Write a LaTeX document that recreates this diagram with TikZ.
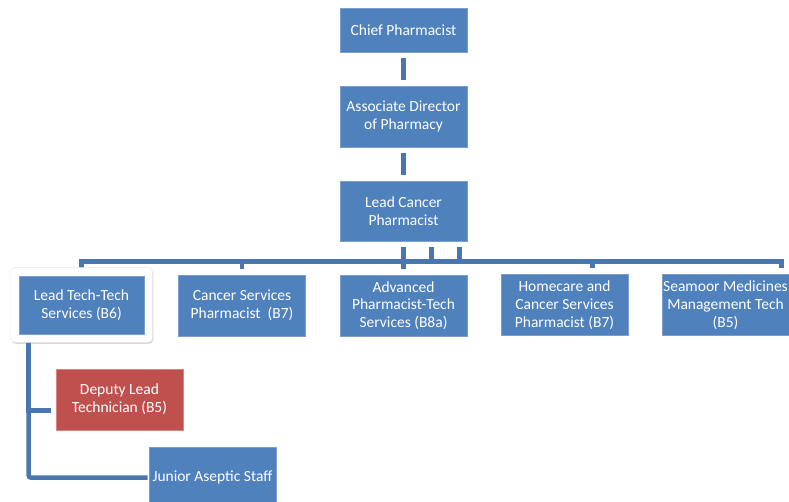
\documentclass[tikz,border=0pt]{standalone}
\usepackage{fontspec}
\setmainfont{Carlito}
\usepackage{tikz}
\usetikzlibrary{fit, backgrounds, shadows}
\definecolor{boxblue}{HTML}{4F81BD}
\definecolor{boxedge}{HTML}{7A9FCF}
\definecolor{linkblue}{HTML}{4A76B0}
\definecolor{deputyred}{HTML}{C0504D}
\definecolor{deputyedge}{HTML}{D88583}

\begin{document}
\begin{tikzpicture}[x=1pt, y=-1pt,
  post/.style={rectangle, fill=boxblue, draw=boxedge, line width=0.6pt, text=white,
    minimum width=127pt, minimum height=61pt, inner sep=2pt, align=center,
    font=\fontsize{15.5}{17.7}\selectfont},
  link/.style={linkblue, line width=4.5pt, shorten <=6pt, shorten >=6pt},
  frame/.style={rectangle, rounded corners=4pt, fill=white, draw=black!10, line width=0.4pt,
    drop shadow={opacity=0.3, shadow xshift=1pt, shadow yshift=-1.5pt}}]
\clip (0,0) rectangle (789,502);

% ---- top chain ---------------------------------------------------------
\node[post, minimum height=44pt] (chief) at (403.5,30) {Chief Pharmacist};
\node[post] (assoc) at (403.5,116.5) {Associate Director\\of Pharmacy};
\node[post, minimum height=60pt] (lcp) at (403.5,211) {Lead Cancer\\Pharmacist};

% ---- second row --------------------------------------------------------
\node[post, minimum width=125pt, minimum height=58pt] (lts) at (81.5,305) {Lead Tech-Tech\\Services (B6)};
\node[post] (csp) at (242,305.5) {Cancer Services\\Pharmacist\ \ (B7)};
\node[post] (apt) at (403.5,305.5) {Advanced\\Pharmacist-Tech\\Services (B8a)};
\node[post] (hcs) at (564.5,305) {Homecare and\\Cancer Services\\Pharmacist (B7)};
\node[post] (smt) at (725.5,305) {\makebox[110pt]{Seamoor Medicines}\\Management Tech\\(B5)};

% ---- technical services team -------------------------------------------
\node[post, fill=deputyred, draw=deputyedge] (dlt) at (119.5,399.5) {Deputy Lead\\Technician (B5)};
\node[post] (jas) at (212.5,477.5) {Junior Aseptic Staff};

% ---- connectors --------------------------------------------------------
\begin{scope}[on background layer]
\draw[link] (chief.south) -- (assoc.north);
\draw[link] (assoc.south) -- (lcp.north);
\draw[link] (lcp.south) -- (apt.north);
\draw[link] ([xshift=28pt]lcp.south) -- ++(0,20) -| (lts.north);
\draw[link] ([xshift=56pt]lcp.south) -- ++(0,20) -| (csp.north);
\draw[link] ([xshift=28pt]lcp.south) -- ++(0,20) -| ([xshift=28pt]hcs.north);
\draw[link] ([xshift=56pt]lcp.south) -- ++(0,20) -| ([xshift=56pt]smt.north);
\draw[link, shorten <=0pt, shorten >=5pt] ([xshift=10pt]lts.south west) |- ([yshift=-11pt]dlt.west);
\draw[link, shorten <=0pt, shorten >=1pt, rounded corners=2pt] ([xshift=10pt]lts.south west) |- (jas.west);
\node[frame, fit=(lts), inner sep=8pt] (ltsframe) {};
\end{scope}
\end{tikzpicture}
\end{document}
